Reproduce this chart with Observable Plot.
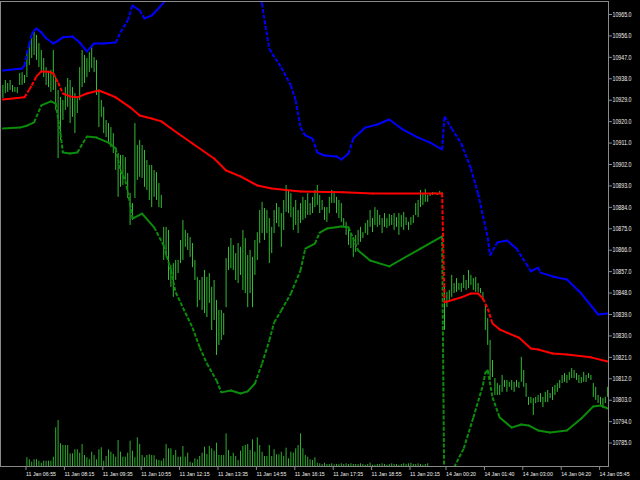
<!DOCTYPE html>
<html><head><meta charset="utf-8">
<script src="https://cdn.jsdelivr.net/npm/d3@7"></script>
<script src="https://cdn.jsdelivr.net/npm/@observablehq/plot@0.6"></script>
<style>
html,body{margin:0;padding:0;background:#000;}
#wrap{position:relative;width:640px;height:480px;background:#000;overflow:hidden}
#wrap svg{position:absolute;left:0;top:0}
</style></head><body><div id="wrap"></div>
<script>
// OHLC bar highs and lows (5-minute bars, index 0 = 11 Jan 06:10)
const high = [
10935.2,10937.3,10936.0,10937.3,10935.2,10934.3,10934.3,10940.2,10940.6,10939.4,
10948.6,10952.8,10955.4,10957.5,10956.2,10952.8,10949.9,10946.5,10942.7,10940.6,
10941.5,10949.9,10938.5,10933.1,10930.2,10928.9,10934.3,10938.1,10937.3,10934.3,
10931.8,10930.2,10942.7,10949.9,10947.8,10946.5,10949.0,10952.0,10946.9,10945.7,
10933.1,10928.9,10926.0,10920.5,10919.2,10917.5,10915.0,10909.1,10906.6,10905.8,
10905.8,10904.9,10898.2,10889.8,10885.6,10919.2,10910.0,10912.1,10910.0,10907.9,
10903.7,10901.6,10901.6,10899.5,10898.6,10894.0,10889.0,10875.6,10875.6,10874.3,
10859.6,10860.4,10861.7,10861.7,10870.1,10878.5,10874.3,10873.0,10871.3,10868.8,
10861.7,10854.6,10853.3,10854.6,10857.5,10854.6,10856.2,10850.4,10853.3,10844.9,
10840.7,10840.7,10839.4,10862.5,10867.2,10870.9,10868.0,10864.6,10868.8,10867.2,
10874.3,10870.9,10863.8,10865.9,10863.0,10870.1,10873.4,10882.7,10886.1,10883.5,
10882.7,10879.3,10875.6,10882.7,10885.6,10883.9,10881.4,10886.9,10893.2,10891.1,
10889.8,10883.9,10886.9,10882.7,10885.6,10888.2,10886.9,10889.8,10885.6,10888.2,
10891.1,10893.2,10889.0,10886.9,10883.9,10883.9,10888.2,10891.1,10889.8,10888.2,
10886.9,10885.6,10879.3,10877.7,10875.1,10873.0,10871.3,10872.2,10874.3,10875.6,
10873.4,10877.2,10878.5,10882.7,10879.3,10883.9,10882.7,10880.6,10879.3,10881.4,
10879.3,10881.0,10880.6,10881.4,10879.7,10881.4,10880.6,10881.9,10879.7,10877.7,
10879.7,10880.6,10885.6,10886.9,10891.1,10889.8,10891.5,10889.0,10889.8,10890.2,
10890.2,10889.8,10890.7,10890.2,10850.4,10848.3,10849.1,10855.4,10852.0,10854.1,
10852.0,10852.0,10855.4,10853.3,10857.5,10855.4,10854.1,10854.6,10852.0,10849.9,
10848.3,10842.8,10837.3,10828.1,10819.7,10812.1,10810.0,10809.2,10813.4,10811.3,
10811.3,10810.5,10811.3,10810.5,10811.3,10810.5,10821.0,10815.5,10810.0,10804.2,
10804.2,10803.7,10804.2,10805.0,10805.8,10804.2,10806.3,10807.1,10805.8,10808.4,
10809.2,10810.0,10811.3,10813.4,10814.2,10813.4,10814.7,10816.3,10815.5,10814.2,
10813.4,10812.5,10814.7,10813.4,10814.2,10813.4,10810.0,10808.4,10805.0,10804.2,
10803.7,10804.2,10808.4];
const low = [
10929.7,10931.8,10932.3,10933.1,10932.3,10932.3,10931.8,10935.2,10935.2,10936.0,
10938.5,10943.6,10946.5,10947.8,10945.7,10942.7,10940.6,10938.5,10935.2,10934.3,
10932.3,10933.1,10924.7,10904.5,10912.1,10920.5,10924.7,10926.0,10919.2,10921.8,
10915.0,10923.4,10928.9,10934.3,10936.0,10938.5,10940.6,10942.3,10940.6,10931.0,
10917.5,10921.8,10915.0,10913.3,10910.8,10909.1,10906.6,10899.5,10888.2,10892.4,
10893.2,10895.3,10887.7,10876.4,10878.5,10887.7,10895.3,10896.6,10896.1,10892.4,
10891.1,10886.9,10883.9,10888.2,10886.9,10883.9,10883.5,10861.7,10863.0,10853.3,
10850.4,10846.2,10853.3,10856.2,10860.4,10861.7,10867.2,10865.9,10863.0,10858.7,
10853.3,10841.9,10844.9,10840.7,10839.4,10837.7,10843.6,10832.3,10836.5,10821.8,
10826.0,10828.1,10830.2,10841.9,10857.5,10858.3,10857.5,10853.3,10852.0,10855.4,
10849.1,10847.8,10841.9,10847.8,10841.9,10855.4,10861.7,10868.8,10873.0,10870.1,
10873.0,10860.4,10864.6,10873.0,10877.2,10875.6,10867.2,10874.3,10881.9,10881.4,
10879.7,10874.3,10876.4,10873.0,10877.2,10878.5,10879.3,10880.6,10880.6,10881.4,
10883.9,10884.8,10881.4,10882.7,10878.5,10877.7,10881.4,10885.6,10885.6,10881.4,
10879.3,10877.7,10875.6,10872.2,10868.0,10866.7,10863.0,10865.0,10868.0,10869.3,
10870.9,10873.0,10872.2,10875.6,10873.4,10876.4,10875.6,10876.4,10873.0,10875.6,
10875.1,10876.0,10876.4,10874.3,10875.6,10872.2,10875.6,10874.3,10876.4,10874.3,
10876.4,10877.2,10880.6,10879.7,10883.9,10884.8,10886.1,10886.1,10888.6,10889.0,
10889.4,10889.0,10889.4,10889.4,10832.3,10841.9,10844.9,10846.2,10847.8,10848.3,
10849.1,10848.3,10849.9,10849.1,10849.9,10851.2,10849.1,10848.3,10848.3,10847.8,
10844.9,10832.3,10826.0,10811.3,10812.5,10805.0,10805.0,10805.0,10806.3,10808.4,
10806.3,10808.4,10807.1,10806.3,10808.4,10807.9,10810.5,10808.4,10804.2,10800.8,
10801.6,10796.6,10801.6,10802.0,10802.0,10799.9,10802.0,10802.0,10803.7,10802.9,
10805.0,10806.3,10807.9,10810.0,10810.5,10810.0,10811.3,10812.1,10812.1,10811.3,
10810.0,10810.0,10810.5,10810.5,10812.1,10811.3,10804.2,10802.9,10801.6,10800.8,
10799.5,10801.6,10804.2];

// tick volumes, starting at bar index volStart
const volStart = 10;
const volume = [
87,67,43,67,67,53,33,53,53,53,53,93,
387,460,227,210,210,210,127,127,167,167,133,220,
110,87,67,143,110,67,167,187,53,100,167,143,
120,93,260,143,93,93,133,253,153,87,287,220,
110,87,110,117,110,107,67,60,53,77,220,177,
177,110,160,93,93,200,93,133,43,33,77,67,
100,133,193,120,200,177,153,233,110,110,110,327,
160,100,133,100,60,153,200,210,220,160,267,143,
287,210,143,100,100,210,100,167,117,117,143,100,
183,77,143,133,177,210,327,177,110,93,67,60,
87,33,27,20,
33,20,20,27,17,20,20,27,20,27,20,27,20,20,20,27,20,13,20,33,
13,13,20,20,27,20,13,20,27,20,20,13,20,27,20,27,33,20,20,27,
20,13,20,27];

// Bollinger bands (read at bar indices)
const upperIdx = [0,8,9,10,11,12,13,14,16,18,21,23,25,29,32,35,38,42,47,49,52,54,57,59,62,64,67,72,80,90,100,106,108,109,111,116,120,122,124,126,129,131,134,139,141,144,146,151,156,161,166,173,178,183,184,187,191,195,198,202,203,206,210,214,218,220,223,224,229,235,241,248,252];
const upperVal = [10941.5,10942.3,10943.6,10948.6,10952.5,10956.5,10958.3,10959.1,10957.5,10955.0,10952.8,10954.0,10955.4,10955.8,10953.2,10949.5,10952.8,10952.8,10953.2,10957.5,10962.5,10968.8,10966.7,10963.3,10964.6,10966.7,10970.0,10978,10986,10990,10984,10975,10969.6,10962.5,10950.5,10942.7,10935.2,10928.9,10917.5,10914.2,10912.9,10907.0,10905.8,10905.4,10904.1,10906.6,10912.9,10917.5,10918.8,10920.9,10917.1,10913.3,10911.2,10908.3,10922.2,10917.1,10910.8,10900.3,10889.8,10871.3,10863.8,10869.3,10870.1,10866.7,10860.4,10857.1,10858.7,10856.6,10855.0,10853.7,10847.8,10839.0,10839.4];
const middleIdx = [0,9,11,12,14,16,19,21,23,25,28,31,35,40,44,47,53,57,62,66,73,79,88,93,99,106,112,124,142,154,183,184,188,191,195,198,200,202,204,207,210,215,220,223,229,235,245,252];
const middleVal = [10929.3,10930.2,10933.5,10935.2,10939.0,10941.1,10941.0,10940.2,10936.4,10931.8,10930.6,10930.2,10931.8,10933.1,10931.5,10930.2,10926.0,10922.6,10921.3,10920.1,10915.0,10910.8,10904.5,10899.5,10897.0,10893.2,10891.9,10890.7,10890.3,10889.8,10889.8,10844.1,10845.3,10846.2,10847.8,10847.8,10845.7,10841.5,10835.2,10832.7,10831.4,10829.3,10824.7,10824.3,10822.6,10822.2,10821.0,10819.3];
const lowerIdx = [0,7,10,13,16,20,22,24,25,28,31,35,39,44,47,49,51,53,54,58,63,67,70,72,75,79,82,85,89,91,95,99,102,105,108,111,113,116,120,124,126,130,132,135,141,144,148,153,161,166,174,183,184,186,188,192,196,200,201,202,204,207,212,216,219,223,228,235,241,246,249,252];
const lowerVal = [10917.1,10917.5,10918.3,10919.7,10926.8,10928.5,10927.6,10915.0,10907.0,10906.6,10907.0,10913.8,10913.3,10911.2,10908.7,10899.5,10895.3,10885.6,10879.3,10881.4,10875.6,10868.0,10857.5,10848.3,10841.9,10833.5,10825.2,10818.4,10811.3,10806.3,10807.1,10805.8,10806.7,10810.0,10818.4,10828.1,10835.6,10840.7,10847.8,10857.5,10866.7,10868.8,10873.4,10875.1,10876.0,10875.6,10865.9,10861.7,10859.2,10862.1,10866.7,10871.8,10752,10765,10774.8,10782.7,10795.7,10809.2,10814.5,10815.5,10804.2,10795.7,10791.5,10792.8,10792.4,10790.3,10789.4,10790.3,10795.3,10800.4,10800.8,10799.5];

// axis ticks
const timeTickIdx = [9,25,41,57,73,89,105,121,137,153,169,184,200,216,232,248];
const timeTickLabels = ["11 Jan 06:55","11 Jan 08:15","11 Jan 09:35","11 Jan 10:55","11 Jan 12:15","11 Jan 13:35","11 Jan 14:55","11 Jan 16:15","11 Jan 17:35","11 Jan 18:55","11 Jan 20:15","14 Jan 00:20","14 Jan 01:40","14 Jan 03:00","14 Jan 04:20","14 Jan 05:45"];
const priceTicks = [10785,10794,10803,10812,10821,10830,10839,10848,10857,10866,10875,10884,10893,10902,10911,10920,10929,10938,10947,10956,10965];

const bars = high.map((h, i) => ({i, high: h, low: low[i]}));
const vols = volume.map((v, k) => ({i: volStart + k, v}));
// split each band into segments; steep segments are drawn dashed as in the terminal rendering
function segments(idx, val) {
  const s = [];
  for (let k = 1; k < idx.length; k++) {
    const slope = Math.abs((val[k] - val[k - 1]) / (idx[k] - idx[k - 1]));
    s.push({x1: idx[k - 1], y1: val[k - 1], x2: idx[k], y2: val[k], steep: slope > 1.5});
  }
  return s;
}
function bandMarks(idx, val, color) {
  const s = segments(idx, val);
  return [
    Plot.link(s.filter(d => !d.steep), {x1: "x1", y1: "y1", x2: "x2", y2: "y2", stroke: color, strokeWidth: 2, strokeLinecap: "round", clip: true}),
    Plot.link(s.filter(d => d.steep), {x1: "x1", y1: "y1", x2: "x2", y2: "y2", stroke: color, strokeWidth: 2, strokeLinecap: "butt", strokeDasharray: "4,1.6", clip: true})
  ];
}

const W = 640, H = 480;
const common = {width: W, height: H, marginTop: 1, marginBottom: 14, marginLeft: 0, marginRight: 32};
const xDomain = [-1, 252.33];
const font = "'Liberation Sans', 'DejaVu Sans', sans-serif";

const volPlot = Plot.plot({
  ...common,
  style: {background: "transparent"},
  x: {domain: xDomain, axis: null},
  y: {domain: [0, 4650], axis: null},
  marks: [
    Plot.ruleX(vols, {x: "i", y1: 0, y2: "v", stroke: "#2fae2f", strokeWidth: 1})
  ]
});

const mainPlot = Plot.plot({
  ...common,
  style: {background: "transparent", color: "#f0f0f0", fontFamily: font, fontSize: "7px"},
  x: {domain: xDomain},
  y: {domain: [10775.16, 10970.46]},
  marks: [
    Plot.ruleX(bars, {x: "i", y1: "low", y2: "high", stroke: "#33bb33", strokeWidth: 1, clip: true}),
    ...bandMarks(lowerIdx, lowerVal, "#0b8c0b"),
    ...bandMarks(upperIdx, upperVal, "#0000ff"),
    ...bandMarks(middleIdx, middleVal, "#ff0000"),
    Plot.frame({stroke: "#8a8a8a"}),
    Plot.axisY({anchor: "right", ticks: priceTicks, tickSize: 3, tickPadding: 1,
      tickFormat: d => d.toFixed(1), label: null, stroke: "#8a8a8a", fill: "#f0f0f0"}),
    Plot.axisX({ticks: timeTickIdx, tickSize: 4, tickPadding: 1, textAnchor: "start", dx: 1.5,
      fontSize: 6, tickFormat: d => timeTickLabels[timeTickIdx.indexOf(d)], label: null, stroke: "#8a8a8a", fill: "#f0f0f0"})
  ]
});

// condense the small terminal-style labels to their width in the reference
mainPlot.querySelectorAll('[aria-label="x-axis tick label"] text').forEach(t => {
  t.setAttribute("textLength", 30); t.setAttribute("lengthAdjust", "spacingAndGlyphs");
});
mainPlot.querySelectorAll('[aria-label="y-axis tick label"] text').forEach(t => {
  t.setAttribute("textLength", 19); t.setAttribute("lengthAdjust", "spacingAndGlyphs");
});

const wrap = document.getElementById("wrap");
wrap.appendChild(volPlot);
wrap.appendChild(mainPlot);
</script>
</body></html>
